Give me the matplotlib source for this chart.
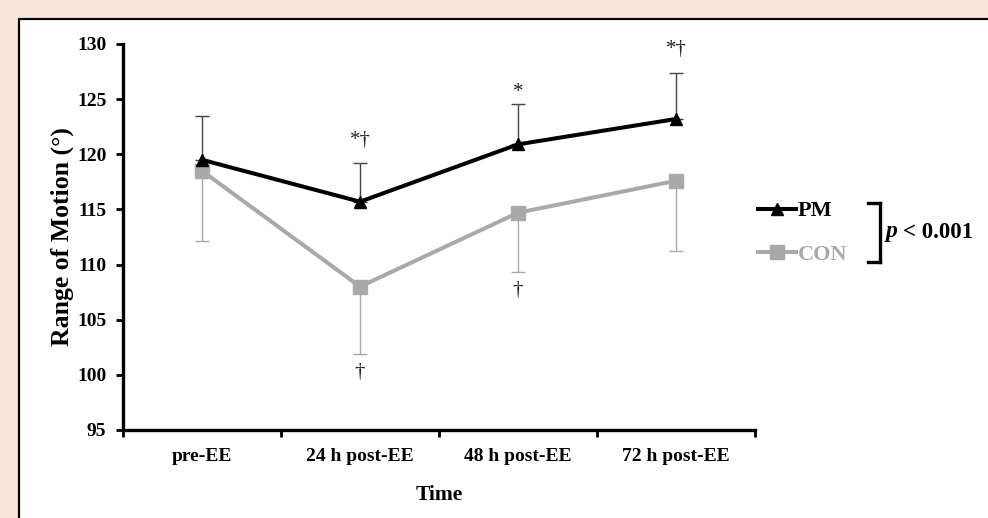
import matplotlib.pyplot as plt
from matplotlib.lines import Line2D
from matplotlib.patches import Rectangle

plt.rcParams['font.family'] = ['Liberation Serif', 'DejaVu Serif']
plt.rcParams['font.weight'] = 'bold'

# data
times = ['pre-EE', '24 h post-EE', '48 h post-EE', '72 h post-EE']
pm_mean = [119.5, 115.7, 120.9, 123.2]
pm_sd = [4.0, 3.5, 3.7, 4.2]
con_mean = [118.5, 108.0, 114.7, 117.6]
con_sd = [6.4, 6.1, 5.4, 6.4]
pm_marks = ['', '*\u2020', '*', '*\u2020']
con_marks = ['', '\u2020', '\u2020', '']

W, H = 988, 518
fig = plt.figure(figsize=(W / 100, H / 100), dpi=100)
fig.patch.set_facecolor('#fbe8d9')
# white panel with black frame (only top / left edges inside the picture)
fig.add_artist(Rectangle((19 / W, -0.1), 1.2, 1 - 19 / H + 0.1,
                         transform=fig.transFigure, facecolor='white',
                         edgecolor='black', linewidth=1.6, zorder=0))

ax = fig.add_axes([123 / W, 1 - 430 / H, (755 - 123) / W, (430 - 44) / H])
ax.set_facecolor('white')

x = list(range(len(times)))
grey = '#a9a9a9'

ax.errorbar(x, con_mean, yerr=[con_sd, [0] * 4], fmt='none', ecolor=grey,
            elinewidth=1.0, capsize=5, capthick=1.0, zorder=2)
ax.errorbar(x, pm_mean, yerr=[[0] * 4, pm_sd], fmt='none', ecolor='#444444',
            elinewidth=1.0, capsize=5, capthick=1.0, zorder=2)
ax.plot(x, con_mean, color=grey, lw=2.9, marker='s', ms=9.5, label='CON', zorder=3)
ax.plot(x, pm_mean, color='black', lw=2.9, marker='^', ms=8.5, label='PM', zorder=4)

for i in x:
    if pm_marks[i]:
        gap = 1.2 if '\u2020' in pm_marks[i] else 0.15
        ax.text(i, pm_mean[i] + pm_sd[i] + gap, pm_marks[i], ha='center', va='bottom',
                fontsize=15, fontweight='normal', color='#222222')
    if con_marks[i]:
        ax.text(i, con_mean[i] - con_sd[i] - 0.8, con_marks[i], ha='center', va='top',
                fontsize=15, fontweight='normal', color='#222222')

ax.set_xlim(-0.5, 3.5)
ax.set_ylim(95, 130)
ax.set_yticks(range(95, 131, 5))
ax.set_xticks([-0.5, 0.5, 1.5, 2.5, 3.5])
ax.set_xticklabels([])
ax.set_xticks(x, minor=True)
ax.set_xticklabels(times, minor=True)
ax.tick_params(axis='x', which='minor', length=0, pad=13, labelsize=14)
ax.tick_params(axis='x', which='major', length=5, width=2, direction='out')
ax.tick_params(axis='y', length=5, width=2, direction='out', labelsize=14, pad=7)
for s in ['top', 'right']:
    ax.spines[s].set_visible(False)
for s in ['left', 'bottom']:
    ax.spines[s].set_linewidth(2.4)

ax.set_xlabel('Time', fontsize=15.5, fontweight='bold', labelpad=14)
ax.set_ylabel('Range of Motion (\u00b0)', fontsize=18.5, fontweight='bold', labelpad=2)

h_pm = Line2D([], [], color='black', lw=2.9, marker='^', ms=8.5)
h_con = Line2D([], [], color=grey, lw=2.9, marker='s', ms=9.5)
leg = fig.legend([h_pm, h_con], ['PM', 'CON'], loc='center left',
                 bbox_to_anchor=(738 / W, 1 - 233 / H), frameon=False,
                 handlelength=1.7, handletextpad=0.1, labelspacing=1.05,
                 prop={'size': 16, 'weight': 'bold'})
leg.get_texts()[1].set_color(grey)

# bracket and p value
bx = 880 / W
y1, y2 = 1 - 203 / H, 1 - 262 / H
for seg in [([bx, bx], [y1, y2]), ([bx - 12 / W, bx], [y1, y1]), ([bx - 12 / W, bx], [y2, y2])]:
    fig.add_artist(Line2D(seg[0], seg[1], transform=fig.transFigure, color='black', lw=2.4))
fig.text(886 / W, 1 - 232 / H, 'p', fontsize=17, fontstyle='italic', fontweight='bold',
         va='center', ha='left')
fig.text(903 / W, 1 - 232 / H, '< 0.001', fontsize=16.5, fontweight='bold',
         va='center', ha='left')

fig.savefig('out.png', dpi=100, facecolor=fig.get_facecolor())
